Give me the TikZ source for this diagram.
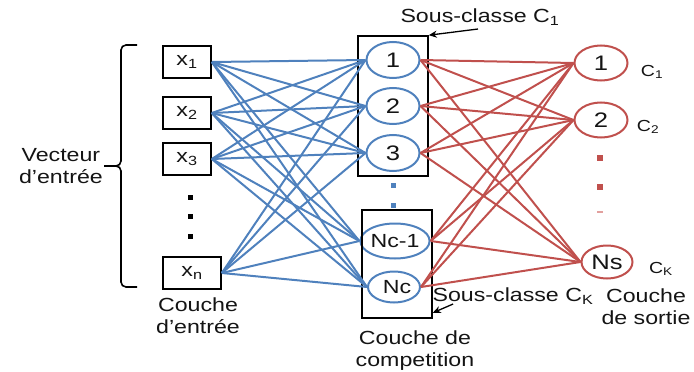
\documentclass[tikz,border=0pt]{standalone}
\usepackage{fontspec}
\setmainfont{Liberation Sans}
\newfontfamily\labfont[FakeStretch=1.22]{Liberation Sans}
\usetikzlibrary{arrows.meta,positioning,shapes.geometric}
\definecolor{compcol}{RGB}{79,129,189}
\definecolor{outcol}{RGB}{192,80,77}
\definecolor{fadecol}{RGB}{226,160,158}
\definecolor{labelcol}{RGB}{20,20,20}

\begin{document}
\begin{tikzpicture}[
  x=1pt, y=-1pt,
  inbox/.style={
    draw=black, line width=1.6pt, minimum width=48pt, minimum height=32pt,
    inner sep=0pt, font=\labfont\fontsize{19}{21}\selectfont, text=labelcol
  },
  compnode/.style={
    draw=compcol, line width=2pt, ellipse, minimum width=53pt, minimum height=36pt,
    inner sep=0pt, font=\labfont\fontsize{21}{23}\selectfont, text=labelcol
  },
  outnode/.style={
    draw=outcol, line width=2pt, ellipse, minimum width=53pt, minimum height=35pt,
    inner sep=0pt, font=\labfont\fontsize{21}{23}\selectfont, text=labelcol
  },
  groupbox/.style={draw=black, line width=1.6pt, minimum width=70pt, inner sep=0pt},
  io/.style={font=\labfont\fontsize{19}{22}\selectfont, text=labelcol, align=center},
  tag/.style={font=\labfont\fontsize{16}{18}\selectfont, text=labelcol},
  blueedge/.style={draw=compcol, line width=2pt},
  rededge/.style={draw=outcol, line width=2pt},
  pointer/.style={draw=black, line width=1.3pt, -{Stealth[length=8pt,width=7pt]}},
  dot/.style={inner sep=0pt, minimum size=5pt}
]
\useasboundingbox (0,0) rectangle (694,372);

%% ===================== Input layer (left) =======================
\node[inbox]                     (x1) at (187, 62) {x\textsubscript{1}};
\node[inbox]                     (x2) at (187,113) {x\textsubscript{2}};
\node[inbox]                     (x3) at (187,159) {x\textsubscript{3}};
\node[inbox, minimum width=58pt] (xn) at (192,273) {x\textsubscript{n}};
\node[dot, fill=black] (xd1) at (190,197) {};
\node[dot, fill=black] (xd2) at (190,216) {};
\node[dot, fill=black] (xd3) at (190,236) {};

%% ===================== Competition layer (middle) ===============
\node[compnode]                  (c1)  at (393, 60) {1};
\node[compnode]                  (c2)  at (393,106) {2};
\node[compnode]                  (c3)  at (393,153) {3};
\node[compnode, minimum width=54pt, minimum height=35pt,
      font=\labfont\fontsize{19}{21}\selectfont] (cn1) at (395,241) {Nc-1};
\node[compnode, minimum width=52pt, minimum height=31pt,
      font=\labfont\fontsize{19}{21}\selectfont] (cn)  at (394,287) {\hspace{6pt}Nc};
\node[dot, fill=compcol] (cd1) at (393,185) {};
\node[dot, fill=compcol] (cd2) at (393,205) {};
\node[groupbox, minimum height=140pt] (topbox) at (393,106) {};
\node[groupbox, minimum height=108pt] (botbox) at (397,264) {};

%% ===================== Output layer (right) =====================
\node[outnode]                   (o1)  at (601, 63) {1};
\node[outnode]                   (o2)  at (601,120) {2};
\node[outnode, minimum width=51pt, minimum height=33pt] (ons) at (607,262) {Ns};
\node[dot, minimum size=6.5pt, fill=outcol]  (od1) at (600,158) {};
\node[dot, minimum size=6.5pt, fill=outcol]  (od2) at (600,187) {};
\node[dot, minimum width=6.5pt, minimum height=2pt, fill=fadecol] (od3) at (600,212) {};

%% ===================== Input -> competition =====================
\draw[blueedge] (x1.east) -- (c1.west);
\draw[blueedge] (x1.east) -- (c2.west);
\draw[blueedge] (x1.east) -- (c3.west);
\draw[blueedge] (x1.east) -- (cn1.west);
\draw[blueedge] (x1.east) -- (cn.west);
\draw[blueedge] (x2.east) -- (c1.west);
\draw[blueedge] (x2.east) -- (c2.west);
\draw[blueedge] (x2.east) -- (c3.west);
\draw[blueedge] (x2.east) -- (cn1.west);
\draw[blueedge] (x2.east) -- (cn.west);
\draw[blueedge] (x3.east) -- (c1.west);
\draw[blueedge] (x3.east) -- (c2.west);
\draw[blueedge] (x3.east) -- (c3.west);
\draw[blueedge] (x3.east) -- (cn1.west);
\draw[blueedge] (x3.east) -- (cn.west);
\draw[blueedge] (xn.east) -- (c1.west);
\draw[blueedge] (xn.east) -- (c2.west);
\draw[blueedge] (xn.east) -- (c3.west);
\draw[blueedge] (xn.east) -- (cn1.west);
\draw[blueedge] (xn.east) -- (cn.west);

%% ===================== Competition -> output ====================
\draw[rededge] (c1.east)  -- (o1.west);
\draw[rededge] (c1.east)  -- (o2.west);
\draw[rededge] (c1.east)  -- (ons.west);
\draw[rededge] (c2.east)  -- (o1.west);
\draw[rededge] (c2.east)  -- (o2.west);
\draw[rededge] (c2.east)  -- (ons.west);
\draw[rededge] (c3.east)  -- (o1.west);
\draw[rededge] (c3.east)  -- (o2.west);
\draw[rededge] (c3.east)  -- (ons.west);
\draw[rededge] (cn1.east) -- (o1.west);
\draw[rededge] (cn1.east) -- (o2.west);
\draw[rededge] (cn1.east) -- (ons.west);
\draw[rededge] (cn.east)  -- (o1.west);
\draw[rededge] (cn.east)  -- (o2.west);
\draw[rededge] (cn.east)  -- (ons.west);

%% ===================== Input vector brace =======================
\coordinate (bracetop) at (137, 45);
\coordinate (bracebot) at (137,287);
\coordinate (bracetip) at (104,166);
\draw[line width=1.6pt, rounded corners=5pt]
  (bracetop) -- (121,45) -- (121,166) -- (bracetip);
\draw[line width=1.6pt, rounded corners=5pt]
  (bracebot) -- (121,287) -- (121,166) -- (bracetip);
\node[io, anchor=east, inner sep=1pt] (vec) at (bracetip) {Vecteur\\d’entrée};

%% ===================== Labels ===================================
\node[io] (inlab)   at (198,316) {Couche\\d’entrée};
\node[io] (complab) at (415,351) {Couche de\\competition};
\node[io] (outlab)  at (646,307) {Couche\\de sortie};
\node[io] (sc1)     at (480, 17) {Sous-classe C\textsubscript{1}};
\node[io] (sck)     at (513,296) {Sous-classe C\textsubscript{K}};
\node[tag] (k1) at (652, 72) {C\textsubscript{1}};
\node[tag] (k2) at (648,127) {C\textsubscript{2}};
\node[tag] (kk) at (661,269) {C\textsubscript{K}};

%% ===================== Sub-class pointers =======================
\draw[pointer] ([xshift=-2pt]sc1.south) -- (topbox.north east);
\draw[pointer] ([xshift=24pt,yshift=4pt]sck.south west) -- ([yshift=6pt]botbox.south east);

\end{tikzpicture}
\end{document}
